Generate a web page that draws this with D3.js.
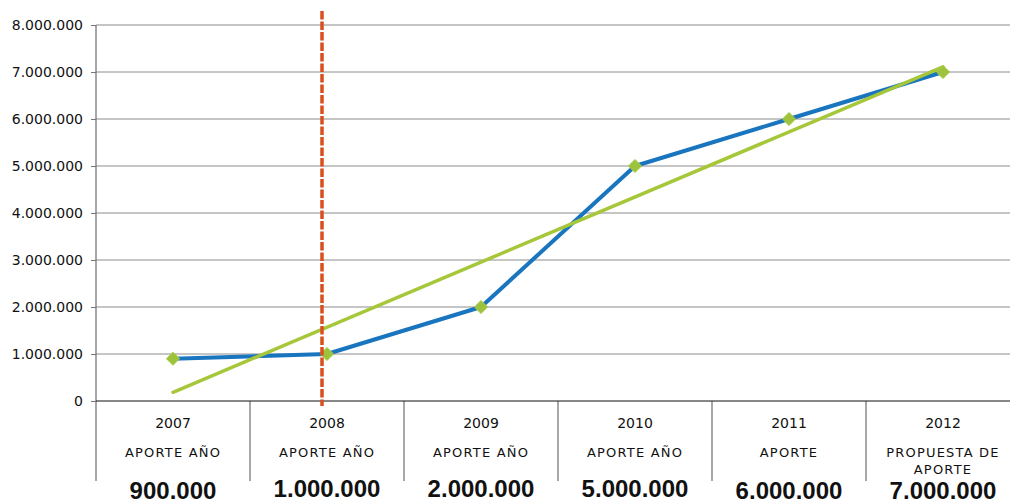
<!DOCTYPE html>
<html>
<head>
<meta charset="utf-8">
<script src="https://cdn.jsdelivr.net/npm/d3@7"></script>
<style>
  body { margin: 0; background: #fff; }
  svg { display: block; font-family: "DejaVu Sans", sans-serif; }
</style>
</head>
<body>
<div id="chart"></div>
<script>
// datos del gráfico
const years = ["2007", "2008", "2009", "2010", "2011", "2012"];
const aporteLabels = [["APORTE AÑO"], ["APORTE AÑO"], ["APORTE AÑO"], ["APORTE AÑO"], ["APORTE"], ["PROPUESTA DE", "APORTE"]];
const aporteValues = [900000, 1000000, 2000000, 5000000, 6000000, 7000000];
const aporteText = ["900.000", "1.000.000", "2.000.000", "5.000.000", "6.000.000", "7.000.000"];
// línea de tendencia (extremos)
const trendYears = ["2007", "2012"];
const trendValues = [185000, 7110000];
const yTicks = [0, 1000000, 2000000, 3000000, 4000000, 5000000, 6000000, 7000000, 8000000];
const markerYear = "2008";

// pequeños ajustes verticales de las cifras grandes
const bigLabelDy = [0, -2, -2, -2, 0, 0];

const width = 1010, height = 504;
const margin = { top: 25, left: 96 };
const plotRight = 1020, plotBottom = 401;

const svg = d3.select("#chart").append("svg")
  .attr("width", width)
  .attr("height", height);

const x = d3.scaleBand().domain(years).range([margin.left, plotRight]);
const y = d3.scaleLinear().domain([0, 8000000]).range([plotBottom, margin.top]);
const cx = d => x(d) + x.bandwidth() / 2;

const locale = d3.formatLocale({ decimal: ",", thousands: ".", grouping: [3], currency: ["$", ""] });
const fmt = locale.format(",");

// rejilla
svg.append("g")
  .selectAll("line")
  .data(yTicks.filter(d => d > 0))
  .join("line")
  .attr("x1", margin.left).attr("x2", plotRight)
  .attr("y1", d => y(d)).attr("y2", d => y(d))
  .attr("stroke", "#8c8c8c")
  .attr("stroke-width", 1);

// eje Y
const yAxis = svg.append("g")
  .attr("transform", `translate(${margin.left},0)`)
  .call(d3.axisLeft(y).tickValues(yTicks).tickFormat(fmt).tickSize(5).tickPadding(8));
yAxis.select(".domain").remove();
yAxis.selectAll(".tick line").attr("stroke", "#777");
yAxis.selectAll("text")
  .attr("font-size", 14)
  .attr("fill", "#111")
  .attr("font-family", "DejaVu Sans, sans-serif");

// línea vertical del eje y divisores de categorías
svg.append("g")
  .selectAll("line")
  .data(years)
  .join("line")
  .attr("x1", d => x(d)).attr("x2", d => x(d))
  .attr("y1", (d, i) => i === 0 ? margin.top : plotBottom)
  .attr("y2", 481)
  .attr("stroke", "#6e6e6e")
  .attr("stroke-width", 1.2);

// eje X (línea de cero)
svg.append("line")
  .attr("x1", margin.left).attr("x2", plotRight)
  .attr("y1", y(0)).attr("y2", y(0))
  .attr("stroke", "#111")
  .attr("stroke-width", 1.2);

// etiquetas de categorías
const cat = svg.append("g").attr("text-anchor", "middle").attr("fill", "#111");
cat.selectAll("text.year")
  .data(years)
  .join("text")
  .attr("class", "year")
  .attr("x", d => cx(d))
  .attr("y", 428)
  .attr("font-size", 14)
  .text(d => d);

years.forEach((yr, i) => {
  aporteLabels[i].forEach((line, j) => {
    cat.append("text")
      .attr("x", cx(yr))
      .attr("y", 457 + j * 17)
      .attr("font-size", 13)
      .attr("letter-spacing", 1.2)
      .text(line);
  });
});

cat.selectAll("text.big")
  .data(years)
  .join("text")
  .attr("class", "big")
  .attr("x", d => cx(d))
  .attr("y", (d, i) => 499 + bigLabelDy[i])
  .attr("font-family", "Liberation Sans, Arial, sans-serif")
  .attr("font-weight", "bold")
  .attr("font-size", 24)
  .text((d, i) => aporteText[i]);

// serie de aportes
const line = d3.line()
  .x(d => cx(d.year))
  .y(d => y(d.value));

const pts = years.map((yr, i) => ({ year: yr, value: aporteValues[i] }));

svg.append("path")
  .datum(pts)
  .attr("d", line)
  .attr("fill", "none")
  .attr("stroke", "#1a75bf")
  .attr("stroke-width", 4)
  .attr("stroke-linejoin", "round");

// tendencia lineal
svg.append("path")
  .datum(trendYears.map((yr, i) => ({ year: yr, value: trendValues[i] })))
  .attr("d", line)
  .attr("fill", "none")
  .attr("stroke", "#a6c73a")
  .attr("stroke-width", 3.5)
  .attr("stroke-linecap", "round");

// marcadores
svg.append("g")
  .selectAll("path")
  .data(pts)
  .join("path")
  .attr("d", d3.symbol().type(d3.symbolDiamond2).size(110))
  .attr("transform", d => `translate(${cx(d.year)},${y(d.value)})`)
  .attr("fill", "#9dc23b")
  .attr("stroke", "#a9cc4a")
  .attr("stroke-width", 1);

// línea discontinua de referencia
svg.append("line")
  .attr("x1", cx(markerYear) - 5).attr("x2", cx(markerYear) - 5)
  .attr("y1", 11).attr("y2", 406)
  .attr("stroke", "#d9501e")
  .attr("stroke-width", 3.5)
  .attr("stroke-dasharray", "8.5,2");
</script>
</body>
</html>
